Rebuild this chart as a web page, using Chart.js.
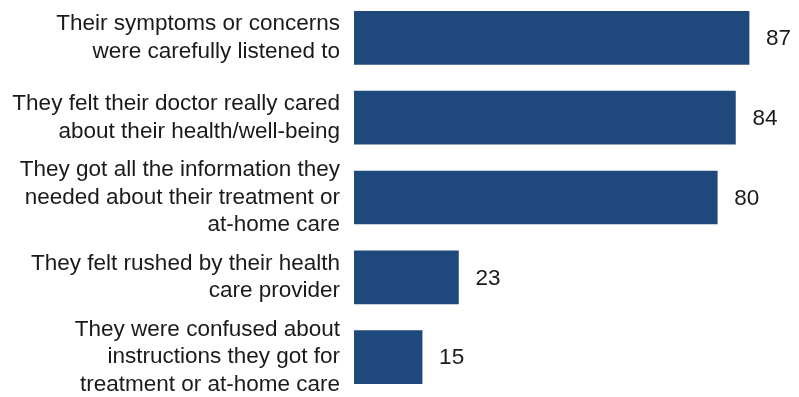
<!DOCTYPE html>
<html>
<head>
<meta charset="utf-8">
<script src="https://cdn.jsdelivr.net/npm/chart.js@4"></script>
<style>
  html, body { margin: 0; padding: 0; background: #ffffff; overflow: hidden; }
  #wrap { width: 799px; height: 397px; overflow: hidden; position: relative; }
  #chart { display: block; position: absolute; left: 0; top: -2px; }
</style>
</head>
<body>
<div id="wrap"><canvas id="chart" width="799" height="399"></canvas></div>
<script>
// Share of patients reporting each experience with their health care provider (%)
const categories = [
  ["Their symptoms or concerns", "were carefully listened to"],
  ["They felt their doctor really cared", "about their health/well-being"],
  ["They got all the information they", "needed about their treatment or", "at-home care"],
  ["They felt rushed by their health", "care provider"],
  ["They were confused about", "instructions they got for", "treatment or at-home care"]
];
const values = [87, 84, 80, 23, 15];

const BAR_COLOR = "#1f497d";
const TEXT_COLOR = "#1a1a1a";
const FONT_FAMILY = "'Liberation Sans', Arial, sans-serif";
const FONT_SIZE = 22.5;

// Writes each bar's value just past its end
const valueLabels = {
  id: "valueLabels",
  afterDatasetsDraw(chart) {
    const ctx = chart.ctx;
    const meta = chart.getDatasetMeta(0);
    ctx.save();
    ctx.font = FONT_SIZE + "px " + FONT_FAMILY;
    ctx.fillStyle = TEXT_COLOR;
    ctx.textAlign = "left";
    ctx.textBaseline = "middle";
    meta.data.forEach((bar, i) => {
      const v = chart.data.datasets[0].data[i];
      ctx.fillText(String(v), bar.x + 17, bar.y + 1);
    });
    ctx.restore();
  }
};

new Chart(document.getElementById("chart"), {
  type: "bar",
  data: {
    labels: categories,
    datasets: [{
      data: values,
      backgroundColor: BAR_COLOR,
      borderWidth: 0,
      barThickness: 53
    }]
  },
  options: {
    indexAxis: "y",
    responsive: false,
    animation: false,
    devicePixelRatio: 1,
    layout: { padding: 0 },
    plugins: {
      legend: { display: false },
      tooltip: { enabled: false }
    },
    scales: {
      x: {
        display: false,
        min: 0,
        max: 98
      },
      y: {
        grid: { display: false, drawTicks: false },
        border: { display: false },
        afterFit(scale) {
          scale.width = 354;
          scale.paddingTop = 0;
          scale.paddingBottom = 0;
        },
        ticks: {
          autoSkip: false,
          padding: 14,
          color: TEXT_COLOR,
          font: { family: FONT_FAMILY, size: FONT_SIZE, lineHeight: 1.22 }
        }
      }
    }
  },
  plugins: [valueLabels]
});
</script>
</body>
</html>
